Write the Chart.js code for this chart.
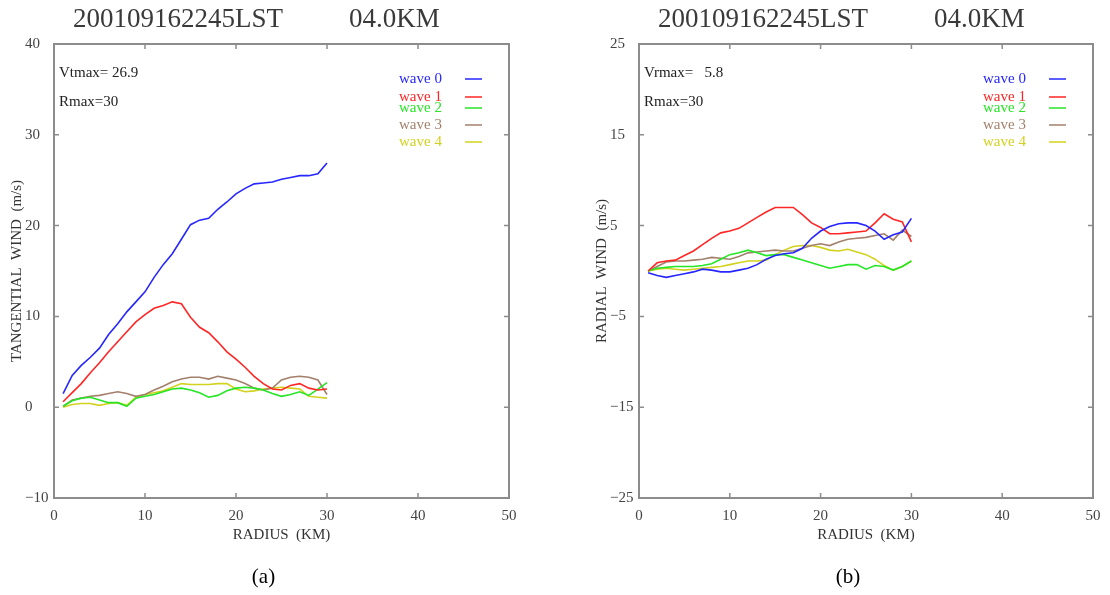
<!DOCTYPE html>
<html>
<head>
<meta charset="utf-8">
<script src="https://cdn.jsdelivr.net/npm/chart.js@4"></script>
<style>
  body { margin: 0; background: #fff; width: 1110px; height: 595px; overflow: hidden; }
  .panel { position: absolute; top: 0; width: 555px; height: 595px; }
</style>
</head>
<body>
<div class="panel" style="left:0"><canvas id="tangential"></canvas></div>
<div class="panel" style="left:555px"><canvas id="radial"></canvas></div>
<script>
// radius (km) of each sample
const radius = [1,2,3,4,5,6,7,8,9,10,11,12,13,14,15,16,17,18,19,20,21,22,23,24,25,26,27,28,29,30];

// (a) tangential wind, m/s
const tanWave0 = [1.5,3.5,4.6,5.5,6.5,8.0,9.2,10.5,11.6,12.7,14.3,15.7,16.9,18.5,20.1,20.6,20.8,21.8,22.6,23.5,24.1,24.6,24.7,24.8,25.1,25.3,25.5,25.5,25.7,26.9];
const tanWave1 = [0.6,1.6,2.6,3.8,4.9,6.1,7.2,8.3,9.4,10.2,10.9,11.2,11.6,11.4,9.9,8.8,8.2,7.2,6.1,5.3,4.4,3.4,2.6,2.0,1.9,2.4,2.6,2.1,1.9,2.0];
const tanWave2 = [0.1,0.7,1.0,1.1,0.8,0.5,0.5,0.1,1.0,1.2,1.4,1.7,2.0,2.1,1.9,1.6,1.1,1.3,1.8,2.1,2.2,2.1,1.9,1.5,1.2,1.4,1.7,1.3,2.0,2.7];
const tanWave3 = [0.1,0.8,1.0,1.2,1.3,1.5,1.7,1.5,1.2,1.4,1.9,2.3,2.8,3.1,3.3,3.3,3.1,3.4,3.2,3.0,2.6,2.1,1.9,2.1,3.0,3.3,3.4,3.3,3.0,1.4];
const tanWave4 = [0.0,0.3,0.4,0.4,0.2,0.4,0.5,0.2,1.1,1.4,1.6,1.8,2.2,2.6,2.5,2.5,2.5,2.6,2.6,2.0,1.7,1.8,2.0,2.1,2.2,2.1,2.0,1.2,1.1,1.0];

// (b) radial wind, m/s
const radWave0 = [-0.2,-0.5,-0.7,-0.5,-0.3,-0.1,0.2,0.1,-0.1,-0.1,0.1,0.3,0.7,1.3,1.7,1.9,2.0,2.5,3.6,4.4,4.9,5.2,5.3,5.3,5.0,4.4,3.5,4.0,4.3,5.8];
const radWave1 = [0.0,0.9,1.1,1.2,1.7,2.2,2.9,3.6,4.2,4.4,4.7,5.3,5.9,6.5,7.0,7.0,7.0,6.2,5.3,4.8,4.1,4.1,4.2,4.3,4.4,5.3,6.3,5.7,5.4,3.2];
const radWave2 = [0.0,0.3,0.4,0.5,0.5,0.5,0.6,0.8,1.3,1.8,2.0,2.3,2.0,1.7,1.8,1.8,1.5,1.2,0.9,0.6,0.3,0.5,0.7,0.7,0.2,0.6,0.5,0.1,0.5,1.1];
const radWave3 = [0.0,0.5,1.0,1.1,1.1,1.2,1.3,1.5,1.4,1.3,1.6,2.0,2.1,2.2,2.3,2.2,2.2,2.5,2.8,3.0,2.8,3.2,3.5,3.6,3.7,3.9,4.1,3.4,4.5,3.8];
const radWave4 = [0.0,0.2,0.3,0.2,0.1,0.2,0.3,0.4,0.5,0.7,0.9,1.1,1.1,1.2,1.8,2.3,2.7,2.8,2.8,2.6,2.3,2.2,2.4,2.1,1.8,1.3,0.6,0.1,0.5,1.1];

const waveNames = ["wave 0", "wave 1", "wave 2", "wave 3", "wave 4"];
const waveColors = ["#2626ff", "#ff2626", "#26e626", "#a3806c", "#d2d21e"];
const xTicks = [0, 10, 20, 30, 40, 50];
const legendY = [79, 97, 108, 125, 142];

function pts(vals) {
  return vals.map(function (v, i) { return { x: radius[i], y: v }; });
}

// frame, inner tick marks, title, notes, legend and captions
const panelDecor = {
  id: "panelDecor",
  afterDraw: function (chart, args, opts) {
    const ctx = chart.ctx;
    const a = chart.chartArea;
    const xs = chart.scales.x, ys = chart.scales.y;
    ctx.save();
    ctx.strokeStyle = "#8c8c8c";
    ctx.lineWidth = 2;
    ctx.strokeRect(a.left, a.top, a.right - a.left, a.bottom - a.top);
    ctx.lineWidth = 1.5;
    ctx.beginPath();
    xs.ticks.forEach(function (t) {
      const px = xs.getPixelForValue(t.value);
      ctx.moveTo(px, a.top); ctx.lineTo(px, a.top + 5);
      ctx.moveTo(px, a.bottom); ctx.lineTo(px, a.bottom - 5);
    });
    ys.ticks.forEach(function (t) {
      const py = ys.getPixelForValue(t.value);
      ctx.moveTo(a.left, py); ctx.lineTo(a.left + 5, py);
      ctx.moveTo(a.right, py); ctx.lineTo(a.right - 5, py);
    });
    ctx.stroke();

    ctx.textBaseline = "alphabetic";
    ctx.textAlign = "left";
    ctx.fillStyle = "#3a3a3a";
    ctx.font = "27px 'Liberation Serif'";
    ctx.fillText("200109162245LST", a.left + 19, 27);
    ctx.fillText("04.0KM", a.left + 295, 27);

    ctx.textBaseline = "middle";
    ctx.fillStyle = "#222";
    ctx.font = "15px 'Liberation Serif'";
    ctx.fillText(opts.note, a.left + 5, 73);
    ctx.fillText("Rmax=30", a.left + 5, 102);

    chart.data.datasets.forEach(function (ds, i) {
      ctx.fillStyle = ds.borderColor;
      ctx.fillText(ds.label, a.right - 110, legendY[i]);
      ctx.strokeStyle = ds.borderColor;
      ctx.lineWidth = 1.5;
      ctx.beginPath();
      ctx.moveTo(a.right - 44, legendY[i]);
      ctx.lineTo(a.right - 27, legendY[i]);
      ctx.stroke();
    });

    ctx.fillStyle = "#333";
    ctx.font = "15px 'Liberation Serif'";
    ctx.textAlign = "center";
    ctx.fillText("RADIUS  (KM)", (a.left + a.right) / 2, 535);
    ctx.save();
    ctx.translate(a.left - 37, (a.top + a.bottom) / 2);
    ctx.rotate(-Math.PI / 2);
    ctx.fillText(opts.yTitle, 0, 0);
    ctx.restore();

    ctx.fillStyle = "#000";
    ctx.font = "21px 'Liberation Serif'";
    ctx.fillText(opts.caption, (a.left + a.right) / 2 - 18, 577);
    ctx.restore();
  }
};

function makePanel(canvasId, series, yMin, yMax, yStep, padLeft, padRight, note, yTitle, caption) {
  return new Chart(document.getElementById(canvasId), {
    type: "line",
    data: {
      datasets: series.map(function (vals, i) {
        return {
          label: waveNames[i],
          data: pts(vals),
          borderColor: waveColors[i],
          borderWidth: 1.6,
          pointRadius: 0,
          fill: false,
          tension: 0
        };
      })
    },
    options: {
      responsive: false,
      animation: false,
      events: [],
      layout: { padding: { top: 44, left: padLeft, right: padRight, bottom: 57 } },
      scales: {
        x: {
          type: "linear",
          min: 0,
          max: 50,
          afterBuildTicks: function (s) { s.ticks = xTicks.map(function (v) { return { value: v }; }); },
          afterFit: function (s) { s.height = 40; },
          grid: { display: false, drawTicks: false },
          border: { display: false },
          ticks: { padding: 9, color: "#444", font: { family: "Liberation Serif", size: 15 } }
        },
        y: {
          min: yMin,
          max: yMax,
          afterFit: function (s) { s.width = 29; },
          grid: { display: false, drawTicks: false },
          border: { display: false },
          ticks: {
            stepSize: yStep,
            crossAlign: "far",
            color: "#444",
            font: { family: "Liberation Serif", size: 15 },
            callback: function (v) { return v < 0 ? "\u2212" + Math.abs(v) : String(v); }
          }
        }
      },
      plugins: {
        legend: { display: false },
        title: { display: false },
        tooltip: { enabled: false },
        panelDecor: { note: note, yTitle: yTitle, caption: caption }
      }
    },
    plugins: [panelDecor]
  });
}

function setup(id) {
  const c = document.getElementById(id);
  c.width = 555; c.height = 595;
  c.style.width = "555px"; c.style.height = "595px";
}
setup("tangential");
setup("radial");

makePanel("tangential", [tanWave0, tanWave1, tanWave2, tanWave3, tanWave4], -10, 40, 10, 25, 46,
  "Vtmax= 26.9", "TANGENTIAL  WIND  (m/s)", "(a)");
makePanel("radial", [radWave0, radWave1, radWave2, radWave3, radWave4], -25, 25, 10, 55, 17,
  "Vrmax=   5.8", "RADIAL  WIND  (m/s)", "(b)");
</script>
</body>
</html>
